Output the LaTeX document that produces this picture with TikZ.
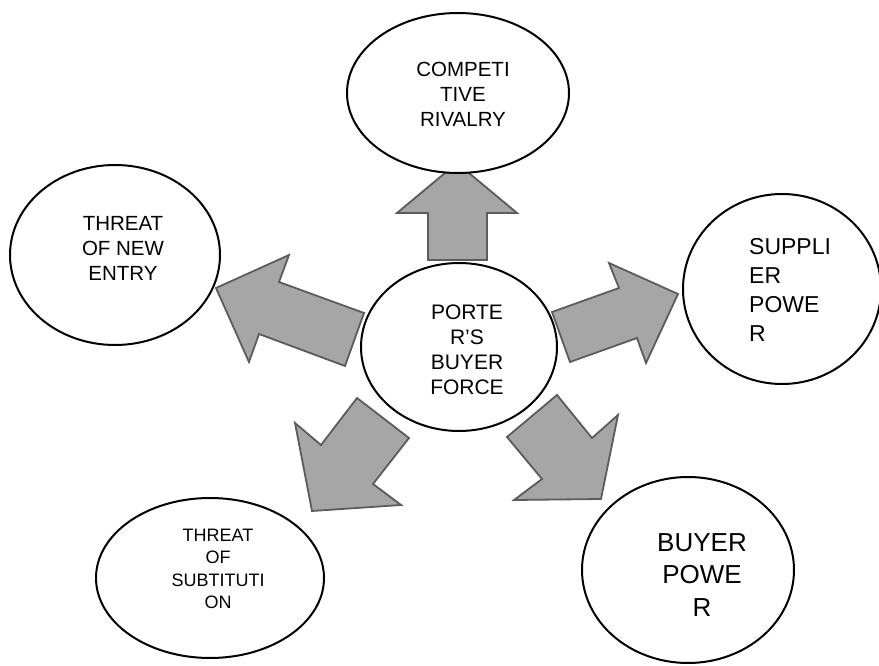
\documentclass[tikz,border=0pt]{standalone}
\usepackage{fontspec}
\setmainfont{Liberation Sans}
\usetikzlibrary{shapes.geometric}
\begin{document}
\begin{tikzpicture}[x=1pt,y=-1pt,
  force/.style={ellipse, draw=black, line width=2pt, fill=white, inner sep=0pt},
  blockarrow/.style={draw=arrowline, fill=arrowfill, line width=1.8pt, line join=miter},
  txt/.style={inner sep=0pt, align=center, text=black},
]
\definecolor{arrowfill}{HTML}{A6A6A6}
\definecolor{arrowline}{HTML}{5C5C5C}
\useasboundingbox (0,0) rectangle (879,666);
% block arrows
\draw[blockarrow] (457,163) -- (517,213) -- (487,213) -- (487,260) -- (428,260) -- (428,213) -- (397,213) -- cycle;
\draw[blockarrow] (216,288) -- (289,255) -- (279,282) -- (364,313) -- (345,366) -- (259,334) -- (249,362) -- cycle;
\draw[blockarrow] (678,294) -- (646,363) -- (637,338) -- (570,362) -- (552,312) -- (619,288) -- (609,263) -- cycle;
\draw[blockarrow] (312,511) -- (295,423) -- (321,445) -- (357,398) -- (409,438) -- (373,484) -- (401,505) -- cycle;
\draw[blockarrow] (601,499) -- (514,500) -- (542,479) -- (507,437) -- (557,395) -- (592,438) -- (618,415) -- cycle;
% ellipses
\node[force, minimum width=222pt, minimum height=160pt] (rival) at (458,93) {};
\node[force, minimum width=196pt, minimum height=168pt] (porter) at (459,347) {};
\node[force, minimum width=210pt, minimum height=180pt] (entry) at (115,255) {};
\node[force, minimum width=198pt, minimum height=190pt] (supplier) at (782,289) {};
\node[force, minimum width=228pt, minimum height=160pt] (subst) at (210,578) {};
\node[force, minimum width=212pt, minimum height=186pt] (buyer) at (688,570) {};
% texts
\node[txt, font=\fontsize{20.5}{25}\selectfont] (rivalT) at (463,94) {COMPETI\\TIVE\\RIVALRY};
\node[txt, font=\fontsize{21}{25}\selectfont] (porterT) at (467,350) {PORTE\\R’S\\BUYER\\FORCE};
\node[txt, font=\fontsize{20.5}{25}\selectfont] (entryT) at (123,248) {THREAT\\OF NEW\\ENTRY};
\node[txt, align=left, anchor=west, font=\fontsize{23}{28.7}\selectfont] (supplierT) at (749,290) {SUPPLI\\ER\\POWE\\R};
\node[txt, font=\fontsize{18}{22.5}\selectfont] (substT) at (218,569) {THREAT\\OF\\SUBTITUTI\\ON};
\node[txt, font=\fontsize{26}{32.5}\selectfont] (buyerT) at (702,575) {BUYER\\POWE\\R};
\end{tikzpicture}
\end{document}
